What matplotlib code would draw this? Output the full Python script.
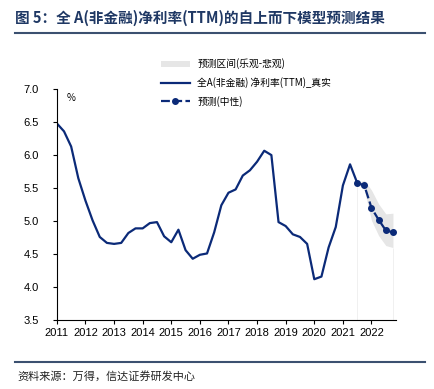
import numpy as np
import matplotlib.pyplot as plt

plt.rcParams['font.family'] = ['Noto Sans CJK SC', 'DejaVu Sans']

# quarterly, first point 2011Q1
actual = [6.48, 6.36, 6.13, 5.65, 5.31, 5.01, 4.76, 4.67, 4.655, 4.67,
          4.82, 4.89, 4.89, 4.97, 4.985, 4.77, 4.68, 4.87, 4.56, 4.43,
          4.49, 4.51, 4.83, 5.24, 5.43, 5.48, 5.69, 5.77, 5.90, 6.066,
          6.00, 4.985, 4.925, 4.80, 4.76, 4.655, 4.12, 4.16, 4.60, 4.91,
          5.54, 5.86, 5.58]
forecast = [5.58, 5.54, 5.20, 5.02, 4.86, 4.83]
band_hi = [5.58, 5.62, 5.47, 5.26, 5.11, 5.12]
band_lo = [5.58, 5.47, 5.01, 4.78, 4.63, 4.60]
years = list(range(2011, 2023))

navy = '#0b2a78'
x_act = 2011 + 0.25 * np.arange(len(actual))
x_fc = 2011 + 0.25 * (len(actual) - 1 + np.arange(len(forecast)))

fig = plt.figure(figsize=(4.34, 3.89), dpi=100)
ax = fig.add_axes([0.131, 0.177, 0.781, 0.594])

ax.fill_between(x_fc, band_lo, band_hi, color='#e6e6e6', lw=0,
                label='预测区间(乐观-悲观)')
ax.vlines([x_fc[0], x_fc[-1]], 3.5, [band_lo[0], band_lo[-1]],
          color='#eeeeee', lw=0.6)
ax.plot(x_act, actual, color=navy, lw=1.6, label='全A(非金融) 净利率(TTM)_真实')
ax.plot(x_fc, forecast, color=navy, lw=1.6, ls=(0, (4, 1.5)), marker='o',
        ms=4, label='预测(中性)')

ax.set_xlim(2011, 2022.85)
ax.set_ylim(3.5, 7.0)
ax.set_xticks(years)
ax.set_xticklabels([str(y) for y in years], fontsize=8, family='Liberation Sans')
ax.set_yticks(np.arange(3.5, 7.01, 0.5))
ax.set_yticklabels(['%.1f' % v for v in np.arange(3.5, 7.01, 0.5)], fontsize=8,
                   family='Liberation Sans')
ax.tick_params(axis='x', length=3, width=0.8, color='black', pad=3)
ax.tick_params(axis='y', length=3, width=0.8, color='black', pad=10)
for s in ['top', 'right']:
    ax.spines[s].set_visible(False)
ax.text(0.03, 0.985, '%', transform=ax.transAxes, fontsize=7, va='top')

ax.legend(loc='upper left', bbox_to_anchor=(0.28, 1.17), frameon=False,
          fontsize=7, handlelength=3, labelspacing=0.8)

fig.text(0.035, 0.955, '图 5：全 A(非金融)净利率(TTM)的自上而下模型预测结果',
         fontsize=10.5, fontweight='bold', color='#1f3864', va='center')
fig.add_artist(plt.Line2D([0.035, 0.98], [0.915, 0.915], color='#3b5070', lw=1.5))
fig.add_artist(plt.Line2D([0.035, 0.98], [0.07, 0.07], color='#3b5070', lw=1.5))
fig.text(0.04, 0.032, '资料来源：万得，信达证券研发中心', fontsize=8, style='italic',
         color='#222222', va='center')

fig.savefig('out.png', dpi=100)
